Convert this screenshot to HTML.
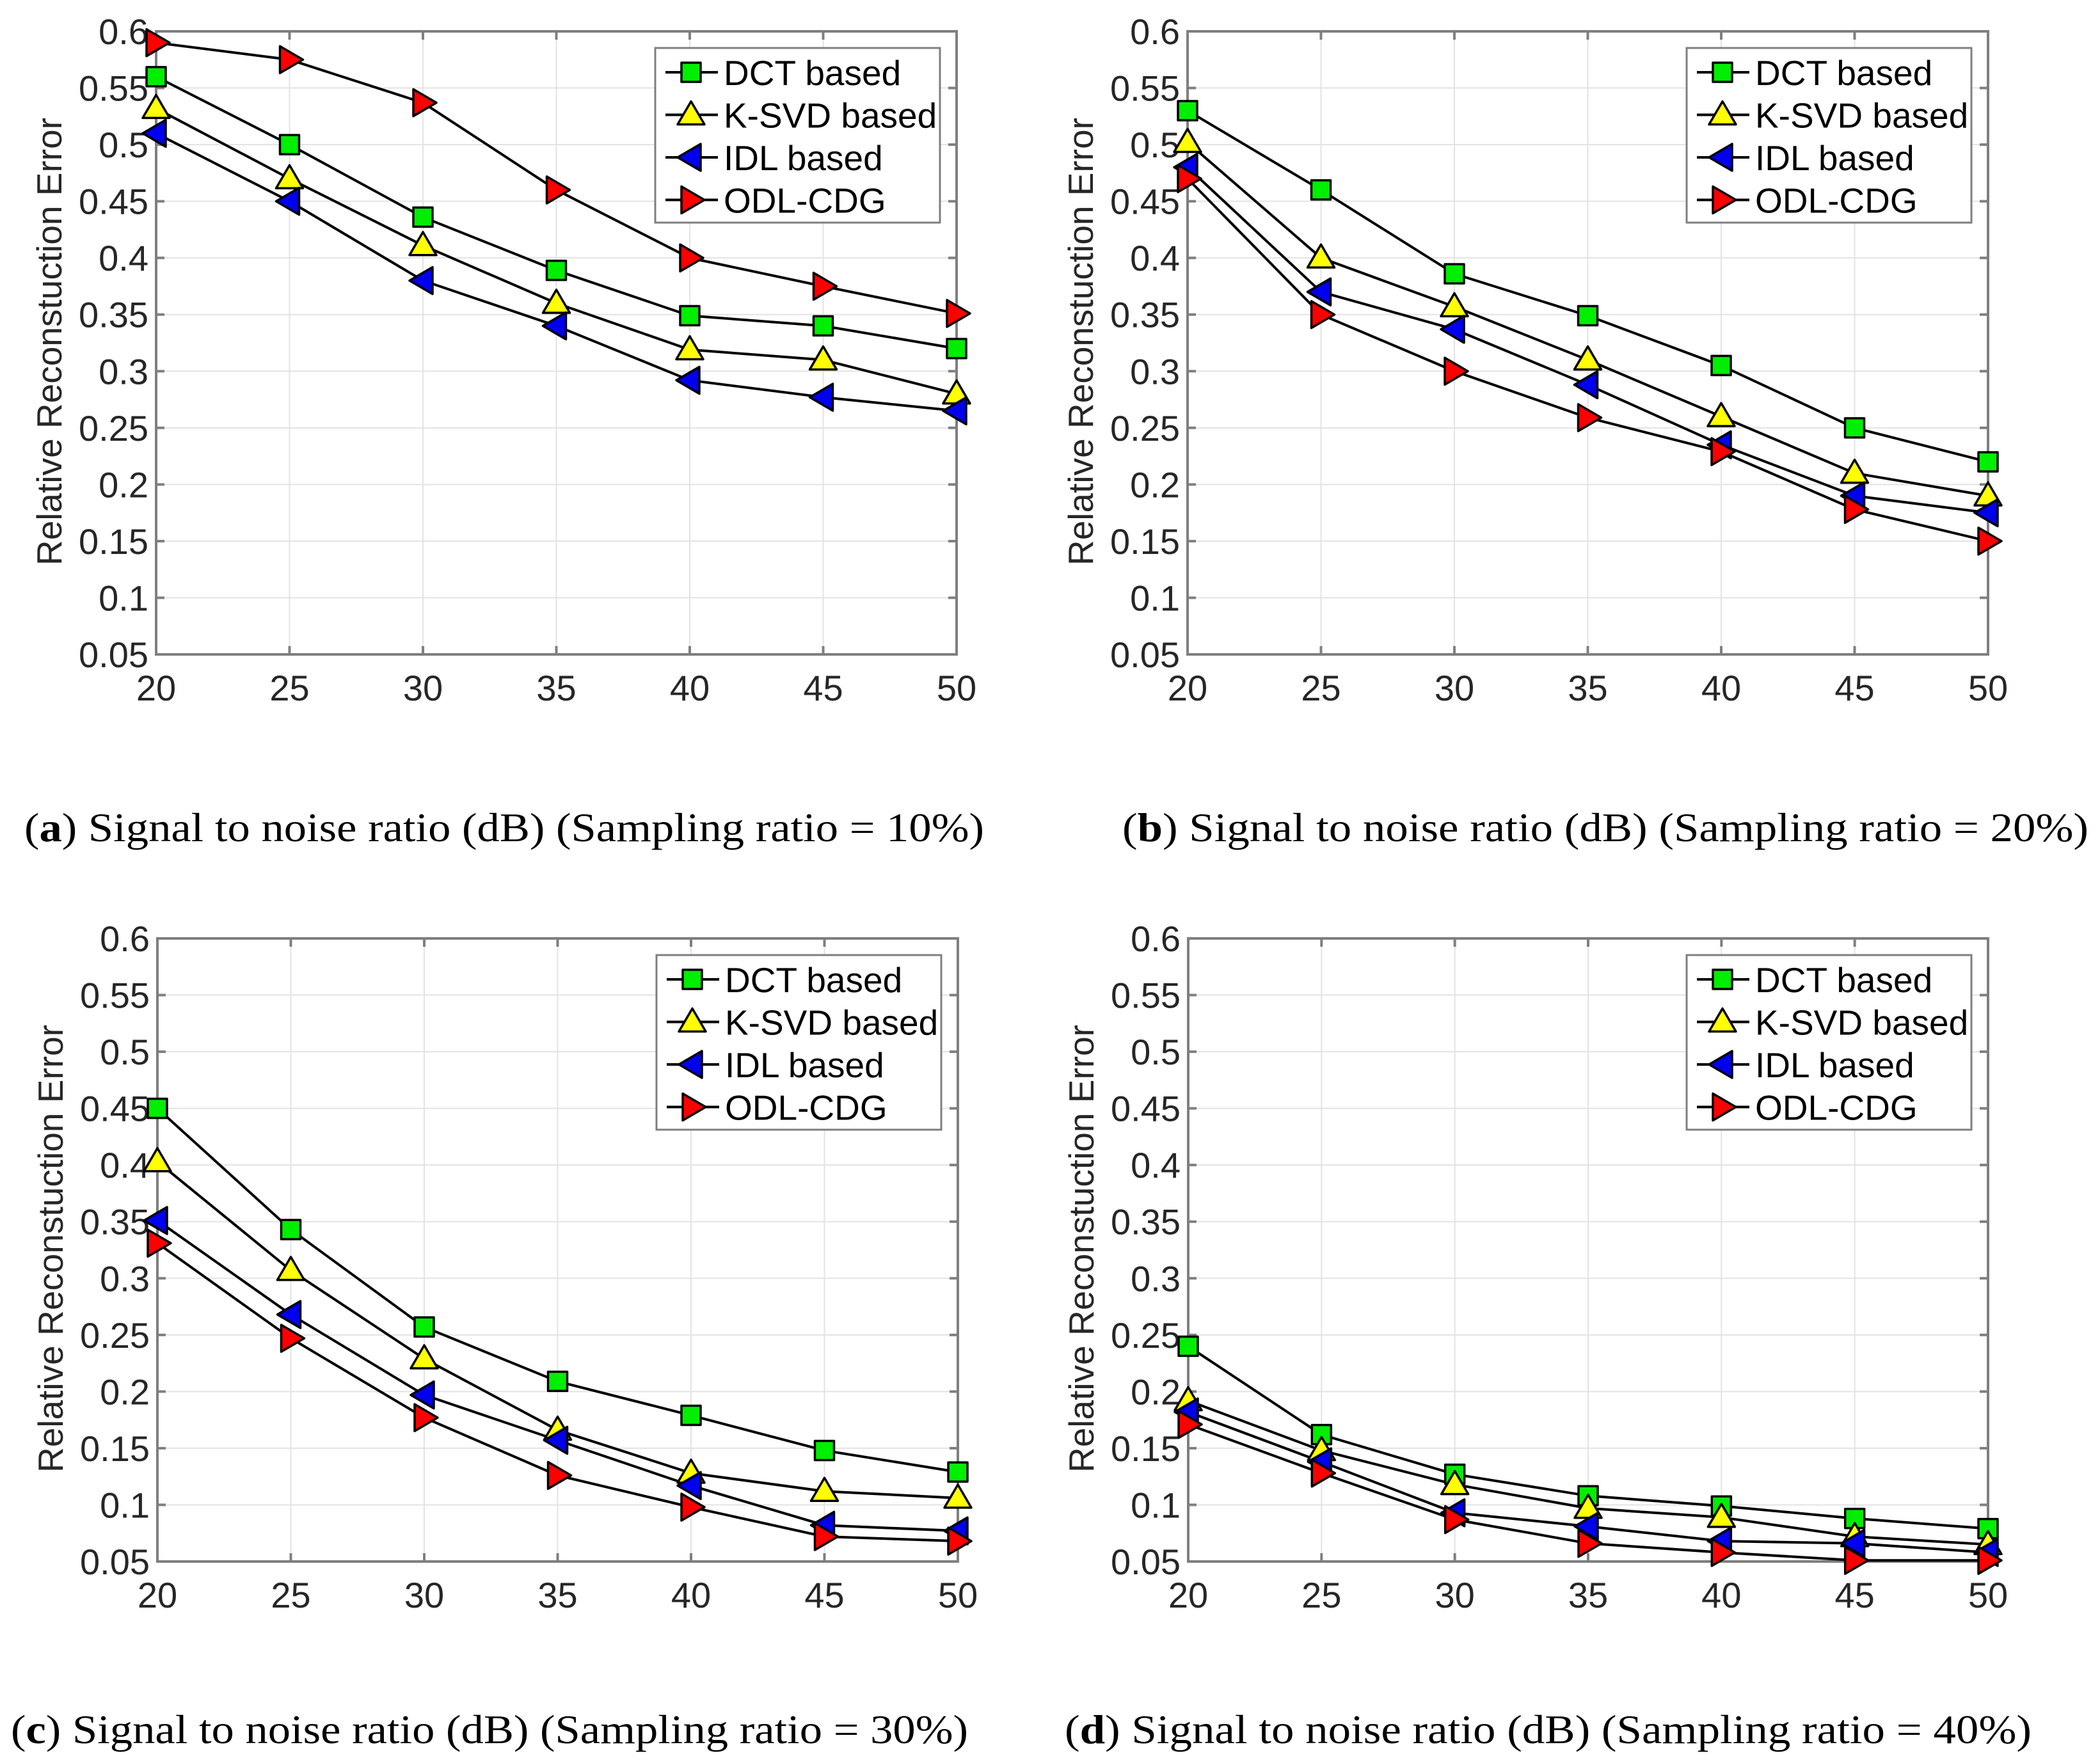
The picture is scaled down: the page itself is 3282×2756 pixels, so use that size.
<!DOCTYPE html>
<html><head><meta charset="utf-8"><style>
html,body{margin:0;padding:0;background:#fff}
svg{display:block}
</style></head><body>
<svg id="fig" width="3282" height="2756" viewBox="0 0 3282 2756" xmlns="http://www.w3.org/2000/svg"></svg>
<script>
const xCategories=[20,25,30,35,40,45,50];
const yTicks=[0.05,0.1,0.15,0.2,0.25,0.3,0.35,0.4,0.45,0.5,0.55,0.6];
const yTickLabels=["0.05","0.1","0.15","0.2","0.25","0.3","0.35","0.4","0.45","0.5","0.55","0.6"];
const seriesNames=["DCT based","K-SVD based","IDL based","ODL-CDG"];
const aDCT=[0.56,0.50,0.436,0.389,0.349,0.34,0.32];
const aKSVD=[0.532,0.47,0.411,0.36,0.319,0.31,0.28];
const aIDL=[0.51,0.45,0.38,0.34,0.292,0.277,0.265];
const aODL=[0.59,0.575,0.537,0.46,0.40,0.375,0.351];
const bDCT=[0.53,0.46,0.386,0.349,0.305,0.25,0.22];
const bKSVD=[0.502,0.40,0.357,0.31,0.26,0.21,0.19];
const bIDL=[0.48,0.37,0.337,0.288,0.235,0.19,0.175];
const bODL=[0.47,0.35,0.30,0.259,0.229,0.178,0.15];
const cDCT=[0.45,0.343,0.257,0.209,0.179,0.148,0.129];
const cKSVD=[0.403,0.307,0.229,0.166,0.128,0.112,0.106];
const cIDL=[0.351,0.268,0.197,0.157,0.117,0.082,0.077];
const cODL=[0.331,0.247,0.177,0.126,0.098,0.072,0.068];
const dDCT=[0.24,0.162,0.127,0.108,0.099,0.088,0.079];
const dKSVD=[0.192,0.148,0.118,0.097,0.089,0.072,0.065];
const dIDL=[0.182,0.138,0.093,0.081,0.068,0.066,0.058];
const dODL=[0.171,0.128,0.087,0.066,0.058,0.051,0.051];
const captionLetters=["a","b","c","d"];
const captionRatios=["10%","20%","30%","40%"];

const NS="http://www.w3.org/2000/svg";
const svg=document.getElementById('fig');
function mk(tag,attrs,parent){const e=document.createElementNS(NS,tag);for(const k in attrs)e.setAttribute(k,attrs[k]);(parent||svg).appendChild(e);return e;}

const panels=[
 {id:"a",L:244,R:1495,T:49,B:1023,series:[aDCT,aKSVD,aIDL,aODL],cap:{x:38,y:1315,w:1500}},
 {id:"b",L:1856,R:3107,T:49,B:1023,series:[bDCT,bKSVD,bIDL,bODL],cap:{x:1754,y:1315,w:1510}},
 {id:"c",L:246,R:1497,T:1467,B:2441,series:[cDCT,cKSVD,cIDL,cODL],cap:{x:17,y:2725,w:1496}},
 {id:"d",L:1857,R:3107,T:1467,B:2441,series:[dDCT,dKSVD,dIDL,dODL],cap:{x:1664,y:2725,w:1511}}
];
const colors=["#00ee00","#ffff00","#0000ee","#ff0000"];

function marker(g,k,cx,cy,s){
 let e;
 if(k===0) e=mk('rect',{x:cx-s*0.5,y:cy-s*0.5,width:s,height:s},g);
 else if(k===1) e=mk('polygon',{points:`${cx},${cy-s*0.7} ${cx+s*0.7},${cy+s*0.5} ${cx-s*0.7},${cy+s*0.5}`},g);
 else if(k===2) e=mk('polygon',{points:`${cx-s*0.7},${cy} ${cx+s*0.5},${cy-s*0.7} ${cx+s*0.5},${cy+s*0.7}`},g);
 else e=mk('polygon',{points:`${cx+s*0.7},${cy} ${cx-s*0.5},${cy-s*0.7} ${cx-s*0.5},${cy+s*0.7}`},g);
 e.setAttribute('fill',colors[k]);e.setAttribute('stroke','#000');e.setAttribute('stroke-width','3.5');e.setAttribute('stroke-linejoin','round');
 return e;
}

panels.forEach((p,pi)=>{
 const g=mk('g',{});
 
 
 const xs=v=>p.L+(v-xCategories[0])/(xCategories[xCategories.length-1]-xCategories[0])*(p.R-p.L);
 const ys=v=>p.B-(v-0.05)/(0.6-0.05)*(p.B-p.T);
 const grid=mk('g',{stroke:'#e3e3e3','stroke-width':2},g);
 
 xCategories.forEach(v=>mk('line',{x1:xs(v),x2:xs(v),y1:p.T,y2:p.B},grid));
 yTicks.forEach(v=>mk('line',{x1:p.L,x2:p.R,y1:ys(v),y2:ys(v)},grid));
 const box=mk('rect',{x:p.L,y:p.T,width:p.R-p.L,height:p.B-p.T,fill:'none',stroke:'#7f7f7f','stroke-width':4},g);
 
 const ticks=mk('g',{stroke:'#7f7f7f','stroke-width':4},g);
 yTicks.forEach(v=>{mk('line',{x1:p.L,x2:p.L+13,y1:ys(v),y2:ys(v)},ticks);mk('line',{x1:p.R,x2:p.R-13,y1:ys(v),y2:ys(v)},ticks);});
 xCategories.forEach(v=>{mk('line',{x1:xs(v),x2:xs(v),y1:p.B,y2:p.B-13},ticks);mk('line',{x1:xs(v),x2:xs(v),y1:p.T,y2:p.T+13},ticks);});
 const yl=mk('g',{'font-family':'Liberation Sans, sans-serif','font-size':56,fill:'#262626','text-anchor':'end'},g);
 
 yTicks.forEach((v,i)=>{const t=mk('text',{x:p.L-12,y:ys(v)+20},yl);t.textContent=yTickLabels[i];});
 const xl=mk('g',{'font-family':'Liberation Sans, sans-serif','font-size':56,fill:'#262626','text-anchor':'middle'},g);
 
 xCategories.forEach(v=>{const t=mk('text',{x:xs(v),y:p.B+72},xl);t.textContent=String(v);});
 const cy=(p.T+p.B)/2-2;
 const lxp=p.L-148;
 const ylab=mk('text',{x:lxp,y:cy,'font-family':'Liberation Sans, sans-serif','font-size':55,fill:'#262626','text-anchor':'middle',transform:`rotate(-90 ${lxp} ${cy})`},g);
 
 ylab.textContent="Relative Reconstuction Error";
 p.series.forEach((arr,k)=>{
  const sg=mk('g',{},g);
  
  
  mk('polyline',{points:arr.map((v,i)=>xs(xCategories[i])+','+ys(v)).join(' '),fill:'none',stroke:'#000','stroke-width':4},sg);
 });
 p.series.forEach((arr,k)=>{
  const sg=mk('g',{},g);
  
  
  arr.forEach((v,i)=>{const m=marker(sg,k,xs(xCategories[i]),ys(v),30);});
 });
 const lx=p.R-471, ly=p.T+26;
 const lg=mk('g',{},g);
 
 mk('rect',{x:lx,y:ly,width:445,height:273,fill:'#fff',stroke:'#7f7f7f','stroke-width':3},lg);
 seriesNames.forEach((n,k)=>{
  const ry=ly+38+k*66.5;
  const eg=mk('g',{},lg);
  
  mk('line',{x1:lx+16,x2:lx+98,y1:ry,y2:ry,stroke:'#000','stroke-width':4},eg);
  marker(eg,k,lx+56,ry,30);
  const t=mk('text',{x:lx+107,y:ry+20,'font-family':'Liberation Sans, sans-serif','font-size':55,fill:'#000'},eg);
  t.textContent=n;
 });
 const cap=mk('text',{x:p.cap.x,y:p.cap.y,'font-family':'Liberation Serif, serif','font-size':64,fill:'#000',textLength:p.cap.w,lengthAdjust:'spacingAndGlyphs'});
 
 const t1=mk('tspan',{},cap);t1.textContent='(';
 const t2=mk('tspan',{'font-weight':'bold'},cap);t2.textContent=captionLetters[pi];
 const t3=mk('tspan',{},cap);t3.textContent=') Signal to noise ratio (dB) (Sampling ratio = '+captionRatios[pi]+')';
});
</script>
</body></html>
